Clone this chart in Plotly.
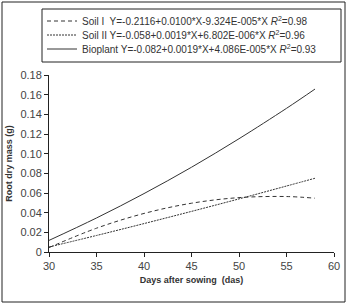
import plotly.graph_objects as go

days = [30, 35, 40, 45, 50, 55, 58]
soil1 = [0.0045, 0.0242, 0.0392, 0.0496, 0.0553, 0.0564, 0.0547]
soil2 = [0.0051, 0.0168, 0.0289, 0.0413, 0.0540, 0.0671, 0.0750]
bioplant = [0.0118, 0.0346, 0.0594, 0.0862, 0.1152, 0.1461, 0.1657]

names = [
    "Soil I  Y=-0.2116+0.0100*X-9.324E-005*X <i>R</i><sup>2</sup>=0.98",
    "Soil II Y=-0.058+0.0019*X+6.802E-006*X <i>R</i><sup>2</sup>=0.96",
    "Bioplant Y=-0.082+0.0019*X+4.086E-005*X <i>R</i><sup>2</sup>=0.93",
]
xticks = [30, 35, 40, 45, 50, 55, 60]
yticks = [0, 0.02, 0.04, 0.06, 0.08, 0.10, 0.12, 0.14, 0.16, 0.18]
yticktext = ["0", "0.02", "0.04", "0.06", "0.08", "0.10", "0.12", "0.14", "0.16", "0.18"]

FONT = "Liberation Sans, Arial, sans-serif"

fig = go.Figure()
fig.add_trace(go.Scatter(x=days, y=soil1, mode="lines", name=names[0], line_shape="spline",
                         legend="legend",
                         line=dict(color="#333333", width=1, dash="4px,3px")))
fig.add_trace(go.Scatter(x=days, y=soil2, mode="lines", name=names[1], line_shape="spline",
                         legend="legend2",
                         line=dict(color="#333333", width=1, dash="2px,1px")))
fig.add_trace(go.Scatter(x=days, y=bioplant, mode="lines", name=names[2], line_shape="spline",
                         legend="legend3",
                         line=dict(color="#333333", width=1)))

W, H = 350, 305
L, R, T, B = 49, 16, 75, 53
pw, ph = W - L - R, H - T - B

def px(x):
    return (x - L) / pw

def py(y):
    return (H - B - y) / ph

def leg(row_y):
    return dict(
        x=px(42), y=py(row_y), xanchor="left", yanchor="middle",
        borderwidth=0, bgcolor="rgba(0,0,0,0)",
        font=dict(family=FONT, size=10, color="#333333"),
        itemwidth=30,
    )

fig.update_layout(
    width=W, height=H,
    margin=dict(l=L, r=R, t=T, b=B, autoexpand=False),
    paper_bgcolor="white", plot_bgcolor="white",
    font=dict(family=FONT, size=11, color="#333333"),
    showlegend=True,
    legend=leg(21), legend2=leg(35), legend3=leg(49),
    xaxis=dict(
        range=[30, 60], tickvals=xticks, ticks="outside", ticklen=4,
        tickcolor="#222222", showline=True, linecolor="#222222", linewidth=1,
        showgrid=False, zeroline=False,
        tickfont=dict(family=FONT, size=11, color="#444444"),
        title=dict(text="<b>Days after sowing  (das)</b>", standoff=5,
                   font=dict(family=FONT, size=9, color="#333333")),
    ),
    yaxis=dict(
        range=[0, 0.18], tickvals=yticks, ticktext=yticktext, ticks="outside", ticklen=4,
        tickcolor="#222222", showline=True, linecolor="#222222", linewidth=1,
        showgrid=False, zeroline=False,
        tickfont=dict(family=FONT, size=11, color="#444444"),
        title=dict(text="<b>Root dry mass (g)</b>", standoff=6,
                   font=dict(family=FONT, size=9, color="#333333")),
    ),
    shapes=[
        dict(type="rect", xref="paper", yref="paper",
             x0=px(2), x1=px(345), y0=py(302), y1=py(2),
             line=dict(color="#222222", width=1), layer="below"),
        dict(type="rect", xref="paper", yref="paper",
             x0=px(42), x1=px(341), y0=py(62), y1=py(9),
             line=dict(color="#222222", width=1), fillcolor="rgba(0,0,0,0)", layer="below"),
    ],
)

fig.write_html("out.html",
               config={"displayModeBar": False},
               post_script="document.body.style.margin='0';document.body.style.overflow='hidden';")
